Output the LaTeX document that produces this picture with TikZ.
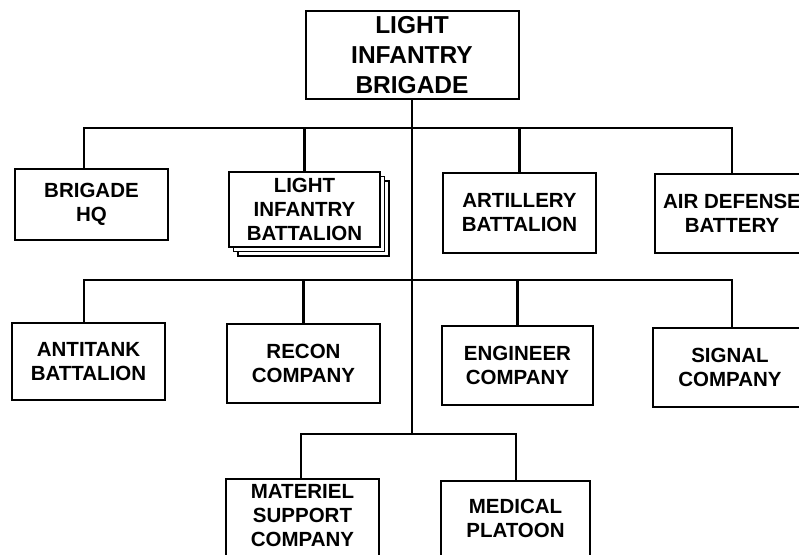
\documentclass[tikz,border=0pt]{standalone}
\usepackage{fontspec}
\setmainfont{Liberation Sans}
\begin{document}
\begin{tikzpicture}[x=1pt,y=-1pt,
  box/.style={draw, line width=2pt, fill=white, align=center, inner sep=0pt,
    font=\bfseries\fontsize{20.5}{24}\selectfont},
  shadowbox/.style={draw, line width=1.5pt, fill=white, inner sep=0pt,
    minimum width=151pt, minimum height=75pt},
  conn/.style={line width=2.2pt}]
\useasboundingbox (0,0) rectangle (799,554);
\clip (0,0) rectangle (799,554);
% top
\node[box, minimum width=213pt, minimum height=88pt,
  font=\bfseries\fontsize{24.5}{30}\selectfont] (top) at (412,55) {LIGHT\\INFANTRY\\BRIGADE};
% row 1
\node[box, minimum width=153pt, minimum height=71pt] (hq) at (91.5,204.5) {BRIGADE\\HQ};
\node[shadowbox] (libc) at (313.5,218.5) {};
\node[shadowbox] (libb) at (309,214) {};
\node[box, minimum width=151pt, minimum height=75pt] (lib) at (304.5,209.5) {LIGHT\\INFANTRY\\BATTALION};
\node[box, minimum width=153pt, minimum height=80pt] (art) at (519.5,213) {ARTILLERY\\BATTALION};
\node[box, minimum width=154pt, minimum height=79pt] (ad) at (732,213.5) {AIR DEFENSE\\BATTERY};
% row 2
\node[box, minimum width=153pt, minimum height=77pt] (at) at (88.5,361.5) {ANTITANK\\BATTALION};
\node[box, minimum width=153pt, minimum height=79pt] (rec) at (303.5,363.5) {RECON\\COMPANY};
\node[box, minimum width=151pt, minimum height=79pt] (eng) at (517.5,365.5) {ENGINEER\\COMPANY};
\node[box, minimum width=155pt, minimum height=79pt] (sig) at (730,367.5) {SIGNAL\\COMPANY};
% row 3
\node[box, minimum width=153pt, minimum height=84pt, text depth=12pt] (mat) at (302.5,521) {MATERIEL\\SUPPORT\\COMPANY};
\node[box, minimum width=149pt, minimum height=75pt] (med) at (515.5,518.5) {MEDICAL\\PLATOON};
% bus coordinates
\coordinate (b1l) at (84,128);
\coordinate (b1r) at (732,128);
\coordinate (b2l) at (84,280);
\coordinate (b2r) at (732,280);
\coordinate (b3l) at (301,434);
\coordinate (b3r) at (516,434);
% connectors
\draw[conn] (top.south) -- (top.south |- b3l);
\draw[conn] (hq.north -| b1l) |- (b1r) -- (b1r |- ad.north);
\draw[conn] (lib.north) -- (lib.north |- b1l);
\draw[conn] (art.north) -- (art.north |- b1l);
\draw[conn] (at.north -| b2l) |- (b2r) -- (b2r |- sig.north);
\draw[conn] (rec.north) -- (rec.north |- b2l);
\draw[conn] (eng.north) -- (eng.north |- b2l);
\draw[conn] (mat.north -| b3l) |- (b3r) -- (b3r |- med.north);
\end{tikzpicture}
\end{document}
